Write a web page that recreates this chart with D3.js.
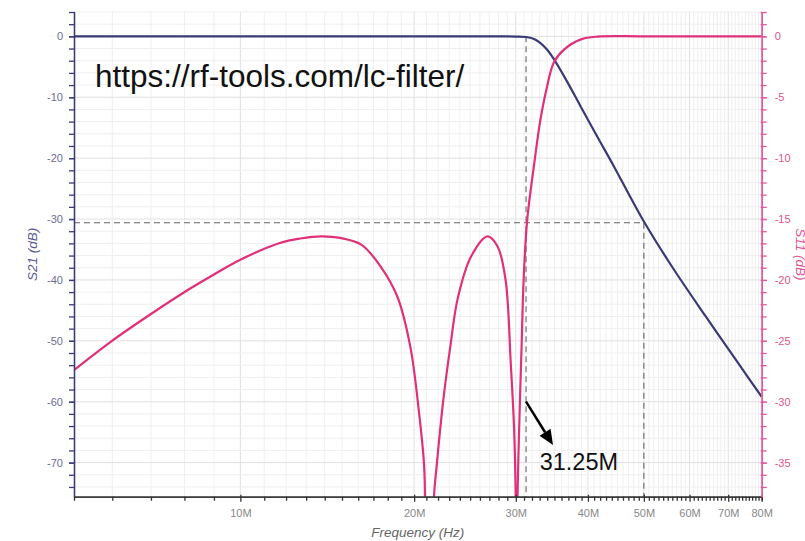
<!DOCTYPE html>
<html>
<head>
<meta charset="utf-8">
<script src="https://cdn.jsdelivr.net/npm/d3@7"></script>
<style>
  body { margin: 0; background: #fff; }
  svg { display: block; font-family: Arial, "Liberation Sans", Helvetica, sans-serif; }
</style>
</head>
<body>
<svg id="chart" width="805" height="541"></svg>
<script>
// S21 transmission (frequency in MHz, left axis dB)
const freqS21 = [5.15, 8, 10, 15, 20, 25, 28, 30, 31.25, 32.2, 33.1, 34.0, 34.9, 36.9, 38.9, 41.6, 44.4, 47.5, 50, 56.1, 64, 73, 80];
const s21dB   = [0, 0, 0, 0, 0, 0, 0, -0.03, -0.1, -0.4, -1.1, -2.2, -3.7, -7.6, -11.6, -16.6, -21.4, -26.6, -30.4, -38.0, -46.0, -53.8, -59.2];

// S11 reflection (frequency in MHz, right axis dB)
const freqS11 = [5.15, 5.97, 7.0, 8.16, 9.0, 10, 11.7, 12.7, 13.8, 14.9, 16.2, 17.5, 18.7, 19.7, 20.4, 20.8, 20.9, 21.25, 21.6, 21.9, 22.5, 23.1, 23.8, 25.1, 26.8, 27.9, 28.8, 29.4, 29.8, 30.0, 30.1, 30.2, 30.4, 30.7, 30.95, 31.4, 32.3, 33.1, 34.0, 34.9, 36.4, 38.9, 41.6, 50, 80];
const s11dB   = [-27.4, -25.06, -22.8, -20.75, -19.55, -18.34, -16.97, -16.6, -16.42, -16.55, -17.1, -18.9, -21.36, -25.5, -30.95, -35.06, -38.5, -60, -38.5, -35.06, -29.6, -25.5, -21.5, -18.07, -16.42, -17.25, -19.99, -26.8, -32.3, -38.5, -60, -38.5, -32.3, -25.5, -20, -15.05, -10.4, -6.83, -4.09, -2.16, -1.07, -0.25, -0.02, 0, 0];

// tick labels
const freqTicks = [10, 20, 30, 40, 50, 60, 70, 80];
const s21Ticks = [0, -10, -20, -30, -40, -50, -60, -70];
const s11Ticks = [0, -5, -10, -15, -20, -25, -30, -35];

// annotations
const cutoffFreq = 31.25;
const stopFreq = 50;
const stopLevel = -30.6;
const urlText = "https://rf-tools.com/lc-filter/";
const cutoffLabel = "31.25M";

const W = 805, H = 541;
const margin = { top: 12, right: 43.3, bottom: 44.3, left: 74 };
const x0 = margin.left, x1 = W - margin.right;
const y0 = H - margin.bottom, y1 = margin.top;

const NAVY = "#3a3a78";
const PINK = "#e0307a";
const PINK_AXIS = "#e8559a";

const svg = d3.select("#chart");

const x = d3.scaleLog().domain([5.15, 80]).range([x0, x1]);
const yL = d3.scaleLinear().domain([-75.6, 4]).range([y0, y1]);
const yR = d3.scaleLinear().domain([-37.8, 2]).range([y0, y1]);

const minorFreq = d3.range(6, 81).filter(d => !freqTicks.includes(d));
const minorLeft = d3.range(-74, 5, 2);
const minorRight = d3.range(-37, 3, 1);

// grid
const grid = svg.append("g").attr("class", "grid");
grid.selectAll(".vgrid")
  .data(d3.range(6, 81))
  .join("line")
  .attr("x1", d => x(d)).attr("x2", d => x(d))
  .attr("y1", y1).attr("y2", y0)
  .attr("stroke", d => freqTicks.includes(d) ? "#e0e0e0" : "#efefef")
  .attr("stroke-width", 1);
grid.selectAll(".hgrid")
  .data(minorLeft)
  .join("line")
  .attr("x1", x0).attr("x2", x1)
  .attr("y1", d => yL(d)).attr("y2", d => yL(d))
  .attr("stroke", d => d % 10 === 0 ? "#e0e0e0" : "#efefef")
  .attr("stroke-width", 1);

// dashed guide lines
const guides = svg.append("g")
  .attr("stroke", "#666")
  .attr("stroke-width", 1.1)
  .attr("stroke-dasharray", "6,4")
  .attr("fill", "none");
guides.append("line")
  .attr("x1", x0).attr("x2", x(stopFreq))
  .attr("y1", yL(stopLevel)).attr("y2", yL(stopLevel));
guides.append("line")
  .attr("x1", x(stopFreq)).attr("x2", x(stopFreq))
  .attr("y1", yL(stopLevel)).attr("y2", y0);
guides.append("line")
  .attr("x1", x(cutoffFreq)).attr("x2", x(cutoffFreq))
  .attr("y1", yL(0)).attr("y2", y0);

// curves
svg.append("clipPath").attr("id", "plotClip")
  .append("rect")
  .attr("x", x0).attr("y", y1)
  .attr("width", x1 - x0).attr("height", y0 - y1);

const plot = svg.append("g").attr("clip-path", "url(#plotClip)");

const lineS21 = d3.line()
  .x((d, i) => x(freqS21[i]))
  .y(d => yL(d))
  .curve(d3.curveCatmullRom.alpha(0.5));
const lineS11 = d3.line()
  .x((d, i) => x(freqS11[i]))
  .y(d => yR(d))
  .curve(d3.curveCatmullRom.alpha(0.5));

plot.append("path")
  .attr("d", lineS21(s21dB))
  .attr("fill", "none")
  .attr("stroke", NAVY)
  .attr("stroke-width", 2.2);
plot.append("path")
  .attr("d", lineS11(s11dB))
  .attr("fill", "none")
  .attr("stroke", PINK)
  .attr("stroke-width", 2.2);

// axes
function styleAxis(g, color, textColor) {
  g.select(".domain").attr("stroke", color).attr("stroke-width", 1.3);
  g.selectAll(".tick line").attr("stroke", color).attr("stroke-width", 1.3);
  g.selectAll(".tick text").attr("fill", textColor).attr("font-size", 11);
}

// bottom
const xMinorAxis = svg.append("g")
  .attr("transform", `translate(0,${y0})`)
  .call(d3.axisBottom(x).tickValues(minorFreq).tickSize(4).tickFormat(""));
styleAxis(xMinorAxis, "#333", "#888");
const xAxis = svg.append("g")
  .attr("transform", `translate(0,${y0})`)
  .call(d3.axisBottom(x).tickValues(freqTicks).tickSizeInner(5).tickSizeOuter(0)
    .tickPadding(8).tickFormat(d => d + "M"));
styleAxis(xAxis, "#333", "#888");
xAxis.selectAll(".tick line").attr("y1", -2);

// left
const yLMinor = svg.append("g")
  .attr("transform", `translate(${x0},0)`)
  .call(d3.axisLeft(yL).tickValues(minorLeft).tickSize(5).tickSizeOuter(0).tickFormat(""));
styleAxis(yLMinor, NAVY, "#6c6c96");
yLMinor.selectAll(".tick line").attr("x2", -5).attr("x1", 1);
const yLAxis = svg.append("g")
  .attr("transform", `translate(${x0},0)`)
  .call(d3.axisLeft(yL).tickValues(s21Ticks).tickSize(5).tickSizeOuter(0)
    .tickPadding(6).tickFormat(d => String(d)));
styleAxis(yLAxis, NAVY, "#6c6c96");

// right
const yRMinor = svg.append("g")
  .attr("transform", `translate(${x1},0)`)
  .call(d3.axisRight(yR).tickValues(minorRight).tickSize(5).tickSizeOuter(0).tickFormat(""));
styleAxis(yRMinor, PINK_AXIS, "#e0548c");
yRMinor.selectAll(".tick line").attr("x1", -1);
const yRAxis = svg.append("g")
  .attr("transform", `translate(${x1},0)`)
  .call(d3.axisRight(yR).tickValues(s11Ticks).tickSize(5).tickSizeOuter(0)
    .tickPadding(8).tickFormat(d => String(d)));
styleAxis(yRAxis, PINK_AXIS, "#e0548c");

// axis titles
svg.append("text")
  .attr("transform", `translate(37,${(y0 + y1) / 2}) rotate(-90)`)
  .attr("text-anchor", "middle")
  .attr("font-size", 13.5)
  .attr("font-style", "italic")
  .attr("fill", "#5a5a92")
  .text("S21 (dB)");
svg.append("text")
  .attr("transform", `translate(796,${(y0 + y1) / 2}) rotate(90)`)
  .attr("text-anchor", "middle")
  .attr("font-size", 13.5)
  .attr("font-style", "italic")
  .attr("fill", "#e0548c")
  .text("S11 (dB)");
svg.append("text")
  .attr("x", (x0 + x1) / 2)
  .attr("y", 537)
  .attr("text-anchor", "middle")
  .attr("font-size", 13.5)
  .attr("font-style", "italic")
  .attr("fill", "#666")
  .text("Frequency (Hz)");

// URL annotation
svg.append("text")
  .attr("x", 95)
  .attr("y", 86.7)
  .attr("font-size", 31.5)
  .attr("fill", "#111")
  .text(urlText);

// cutoff arrow + label
const arrowFrom = [x(cutoffFreq), yL(-60.0)];
const arrowTo = [x(34.8), yL(-67.1)];
const ang = Math.atan2(arrowTo[1] - arrowFrom[1], arrowTo[0] - arrowFrom[0]);
const headLen = 15, headHalf = 6.5;
const bx = arrowTo[0] - headLen * Math.cos(ang), by = arrowTo[1] - headLen * Math.sin(ang);
svg.append("line")
  .attr("x1", arrowFrom[0]).attr("y1", arrowFrom[1])
  .attr("x2", bx).attr("y2", by)
  .attr("stroke", "#000").attr("stroke-width", 2.5);
svg.append("path")
  .attr("d", d3.line()([
    arrowTo,
    [bx + headHalf * Math.sin(ang), by - headHalf * Math.cos(ang)],
    [bx - headHalf * Math.sin(ang), by + headHalf * Math.cos(ang)]
  ]) + "Z")
  .attr("fill", "#000");
svg.append("text")
  .attr("x", x(33.0))
  .attr("y", yL(-71.2))
  .attr("font-size", 23.5)
  .attr("fill", "#111")
  .text(cutoffLabel);
</script>
</body>
</html>
